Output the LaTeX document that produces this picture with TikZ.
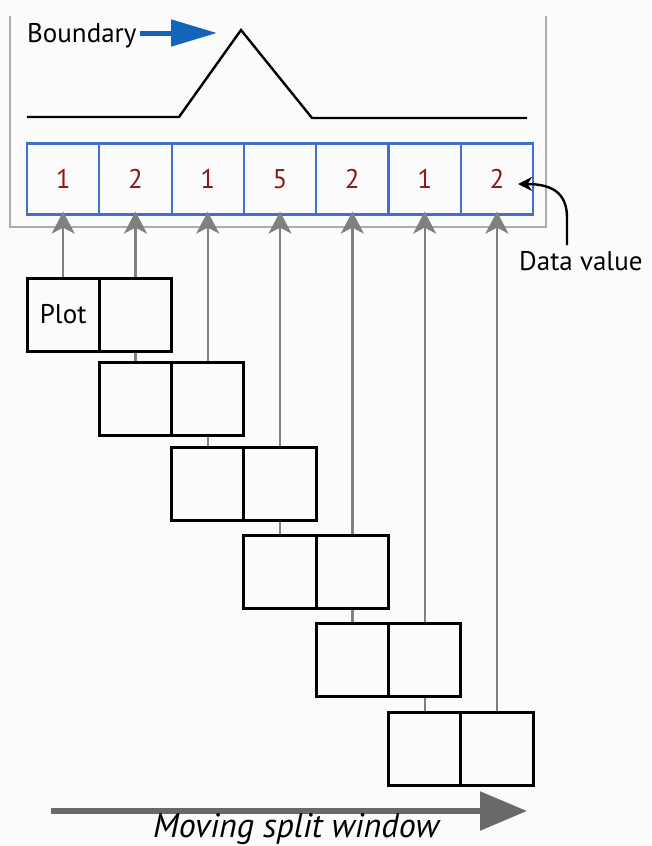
\documentclass[tikz,border=0pt]{standalone}
\usepackage{fontspec}
\setmainfont{PT Sans}
\usetikzlibrary{arrows.meta}
\definecolor{bg}{RGB}{251,251,251}
\definecolor{framegray}{RGB}{172,172,172}
\definecolor{conngray}{RGB}{128,128,128}
\definecolor{biggray}{RGB}{105,105,105}
\definecolor{cellblue}{RGB}{70,110,200}
\definecolor{arrowblue}{RGB}{20,100,185}
\definecolor{numred}{RGB}{140,25,25}
\tikzset{
  cellbox/.style={draw=cellblue,line width=2.2pt,minimum width=72.3pt,minimum height=71pt,inner sep=0pt,font=\fontsize{27}{27}\selectfont,text=numred},
  winbox/.style={draw=black,line width=3pt,minimum width=72.3pt,minimum height=73pt,inner sep=0pt},
  uparrow/.style={draw=conngray,line width=2.3pt,-{Stealth[length=22pt,width=23pt,inset=6pt]},shorten >=-4pt},
  link/.style={draw=conngray,line width=2.3pt},
  lbl/.style={inner sep=0pt,font=\fontsize{27}{27}\selectfont}
}
\begin{document}
\begin{tikzpicture}[x=1pt,y=-1pt]
\useasboundingbox[fill=bg] (0,0) rectangle (651,846);
% frame
\draw[framegray,line width=2.4pt] (10,16) -- (10,227) -- (546,227) -- (546,16);
% boundary
\node[lbl,anchor=base west] (bnd) at (27,42) {Boundary};
\coordinate (btip) at (217,33);
\draw[arrowblue,line width=5pt,-{Triangle[length=46pt,width=26pt]}] (bnd.east |- btip) ++(3,0) -- (btip);
\draw[black,line width=2.4pt,line join=miter] (27,117) -- (179,117) -- (241,30) -- (312,118) -- (527,118);
% cells
\foreach \v [count=\i] in {1,2,1,5,2,1,2}{
  \node[cellbox] (c\i) at ({27+72.3*(\i-0.5)},179) {\v};
}
% windows
\foreach \t [count=\i] in {278,362,447,535,623,712}{
  \node[winbox] (w\i a) at ({27+72.3*(\i-0.5)},{\t+36.5}) {};
  \node[winbox] (w\i b) at ({27+72.3*(\i+0.5)},{\t+36.5}) {};
}
\node[lbl] at (w1a) {Plot};
% arrows to cells
\draw[uparrow] (w1a.north) -- (c1.south);
\foreach \i [evaluate=\i as \j using int(\i+1)] in {1,...,6}{
  \draw[uparrow] (w\i b.north) -- (c\j.south);
}
% links between windows
\foreach \i [evaluate=\i as \j using int(\i+1)] in {1,...,5}{
  \draw[link] (w\i b.south) -- (w\j a.north);
}
% data value
\node[lbl,anchor=base west] (dv) at (519,270) {Data value};
\coordinate (dvs) at (567,245);
\coordinate (dvt) at (518,184);
\draw[black,line width=2.4pt,-{Stealth[length=14pt,width=14pt]}] (dvs) -- (567,218) .. controls (567,196) and (556,184) .. (dvt);
% moving split window
\coordinate (ms) at (51,811);
\coordinate (me) at (527,811);
\draw[biggray,line width=5.5pt,-{Triangle[length=47pt,width=38pt]}] (ms) -- (me);
\node[font=\fontsize{34}{34}\selectfont\itshape,inner sep=0pt,anchor=base] (mt) at (296,837) {Moving split window};
\end{tikzpicture}
\end{document}
